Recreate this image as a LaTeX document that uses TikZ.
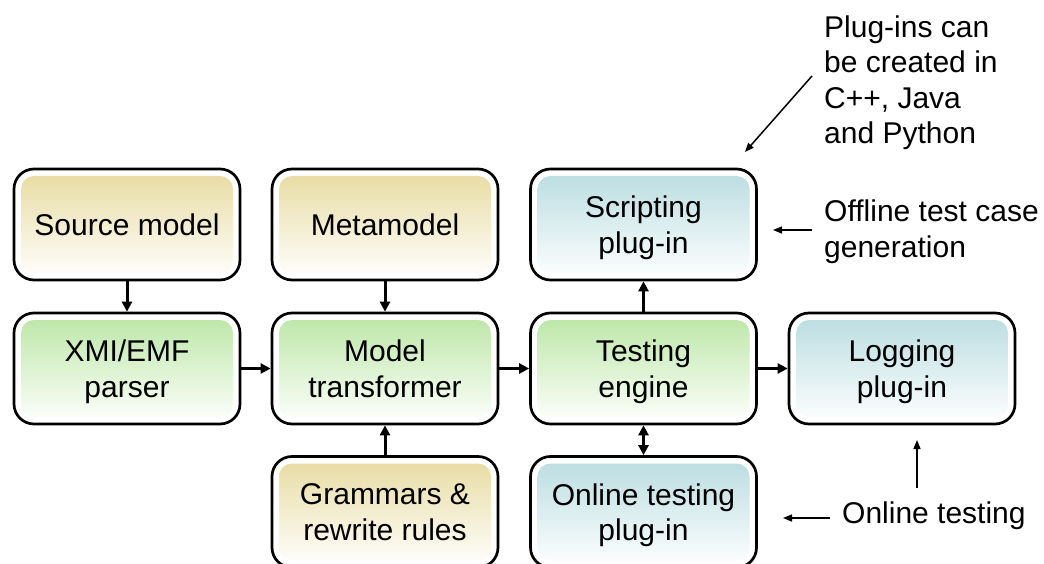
\documentclass[tikz,border=0pt]{standalone}
\usepackage{fontspec}
\setmainfont{Liberation Sans}
\usetikzlibrary{arrows.meta}

\definecolor{tanc}{RGB}{231,219,160}
\definecolor{greenc}{RGB}{186,230,164}
\definecolor{bluec}{RGB}{184,220,224}

\tikzset{
  box/.style={draw=black, line width=2.7pt, rounded corners=20pt, fill=white,
    minimum width=226pt, minimum height=111pt, inner sep=0pt, align=center,
    text depth=0pt, font=\fontsize{30}{35.5}\selectfont},
  shadedbox/.style={box, path picture={
    \shade[top color=#1, bottom color=white, rounded corners=13pt]
      ([xshift=7pt,yshift=-7pt]path picture bounding box.north west) rectangle
      ([xshift=-7pt,yshift=7pt]path picture bounding box.south east);}},
  tanbox/.style={shadedbox=tanc},
  greenbox/.style={shadedbox=greenc},
  bluebox/.style={shadedbox=bluec},
  flow/.style={line width=3pt, -{Triangle[length=10pt,width=10pt]}},
  flowboth/.style={line width=3pt, {Triangle[length=10pt,width=10pt]}-{Triangle[length=10pt,width=10pt]}},
  note/.style={line width=1.5pt, -{Triangle[length=9pt,width=7pt]}},
  notetext/.style={align=left, inner sep=0pt, font=\fontsize{30}{35.5}\selectfont},
}

\begin{document}
\begin{tikzpicture}[x=1pt, y=-1pt]
  \useasboundingbox (0,0) rectangle (1044,564);
  \clip (0,0) rectangle (1044,564);

  % top row
  \node[tanbox]  (src)    at (127,224.5)   {Source model};
  \node[tanbox]  (meta)   at (385,224.5)   {Metamodel};
  \node[bluebox] (script) at (643.5,224.5) {Scripting\\plug-in};

  % middle row
  \node[greenbox] (xmi)    at (127,368.5)   {XMI/EMF\\parser};
  \node[greenbox] (trans)  at (385,368.5)   {Model\\transformer};
  \node[greenbox] (engine) at (643.5,368.5) {Testing\\engine};
  \node[bluebox]  (log)    at (902,368.5)   {Logging\\plug-in};

  % bottom row
  \node[tanbox]  (gram)   at (385,512)   {Grammars \&\\rewrite rules};
  \node[bluebox] (online) at (643.5,512) {Online testing\\plug-in};

  % data flow
  \draw[flow] (src) -- (xmi);
  \draw[flow] (meta) -- (trans);
  \draw[flow] (gram) -- (trans);
  \draw[flow] (xmi) -- (trans);
  \draw[flow] (trans) -- (engine);
  \draw[flow] (engine) -- (log);
  \draw[flow] (engine) -- (script);
  \draw[flowboth] (engine) -- (online);

  % annotations (anchored at the baseline of their last line)
  \node[notetext, anchor=base west] (langs) at (824,144)
    {Plug-ins can\\be created in\\C++, Java\\and Python};
  \node[notetext, anchor=base west] (offline) at (824,257)
    {Offline test case\\generation};
  \node[notetext, anchor=base west] (onlinenote) at (842,523) {Online testing};

  \coordinate (langsfrom) at (812,76);
  \coordinate (langsto)   at (745,152);
  \coordinate (offfrom)   at (812,230);
  \coordinate (offto)     at (773,230);
  \coordinate (onfrom)    at (830,518);
  \coordinate (onto)      at (783,518);
  \coordinate (upfrom)    at (917,488);
  \coordinate (upto)      at (917,440);

  \draw[note] (langsfrom) -- (langsto);
  \draw[note] (offfrom) -- (offto);
  \draw[note] (onfrom) -- (onto);
  \draw[note] (upfrom) -- (upto);
\end{tikzpicture}
\end{document}
